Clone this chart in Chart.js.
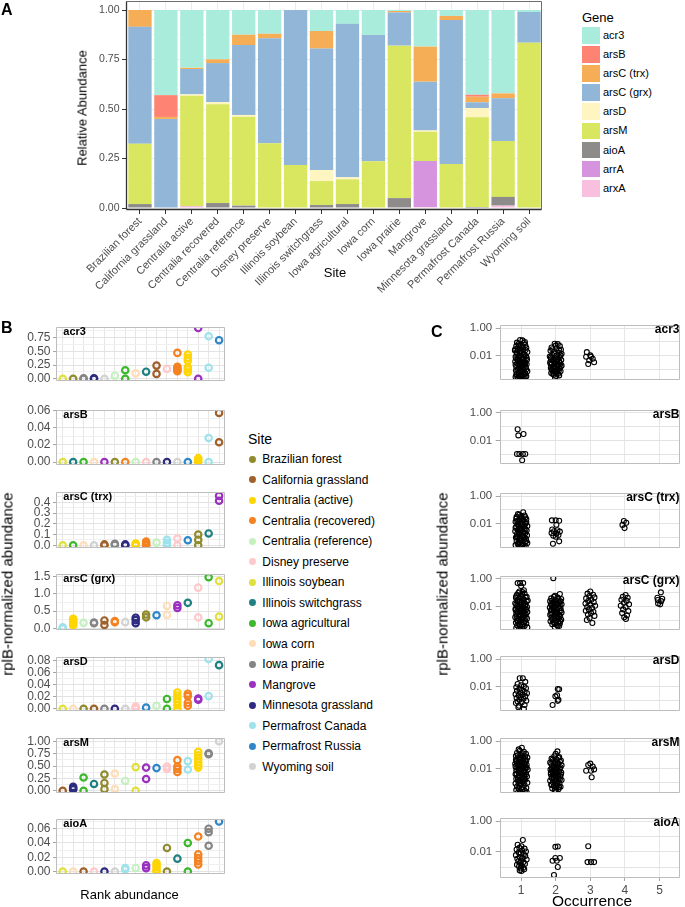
<!DOCTYPE html>
<html><head><meta charset="utf-8">
<script src="https://cdn.jsdelivr.net/npm/chart.js@4"></script>
<style>
html,body{margin:0;padding:0;background:#fff;width:685px;height:907px;overflow:hidden;}
#wrap{position:relative;width:685px;height:907px;overflow:hidden;font-family:"Liberation Sans",Arial,Helvetica,sans-serif;}
canvas{position:absolute;}
.t{position:absolute;white-space:nowrap;line-height:1;color:#000;}
</style></head>
<body><div id="wrap"></div>
<script>
// ---------------- DATA ----------------
// Panel A
const A_SITES = ["Brazilian forest","California grassland","Centralia active","Centralia recovered","Centralia reference","Disney preserve","Illinois soybean","Illinois switchgrass","Iowa agricultural","Iowa corn","Iowa prairie","Mangrove","Minnesota grassland","Permafrost Canada","Permafrost Russia","Wyoming soil"];
const GENES = ["acr3","arsB","arsC (trx)","arsC (grx)","arsD","arsM","aioA","arrA","arxA"];
const GENE_COLORS = ["#AAECDC","#FF8373","#F5AE55","#92B6D8","#FFF5C0","#D9E660","#8E8B8B","#D693DE","#F9BFDE"];
const A_ACR3 = [0,0.43,0.292,0.249,0.125,0.12,0,0.106,0.07,0.126,0.005,0.185,0.03,0.428,0.421,0.01];
const A_ARSB = [0,0.11,0,0,0,0,0,0,0,0,0,0,0,0.01,0,0];
const A_TRX  = [0.085,0.01,0.006,0.019,0.052,0.023,0,0.089,0,0,0.007,0.177,0.021,0.028,0.025,0];
const A_GRX  = [0.59,0.45,0.128,0.197,0.353,0.53,0.783,0.613,0.775,0.638,0.168,0.246,0.727,0.029,0.216,0.155];
const A_ARSD = [0,0,0.007,0.011,0.009,0,0,0.056,0.01,0,0,0.007,0,0.047,0,0];
const A_ARSM = [0.305,0,0.557,0.499,0.449,0.327,0.217,0.121,0.125,0.236,0.77,0.148,0.222,0.453,0.282,0.835];
const A_AIOA = [0.02,0,0,0.025,0.012,0,0,0.015,0.02,0,0.05,0,0,0.005,0.044,0];
const A_ARRA = [0,0,0,0,0,0,0,0,0,0,0,0.232,0,0,0,0];
const A_ARXA = [0,0,0.01,0,0,0,0,0,0,0,0,0.005,0,0,0.012,0];
const A_TICKS = ["0.00","0.25","0.50","0.75","1.00"];

// Panel B
const SITES = ["Brazilian forest","California grassland","Centralia (active)","Centralia (recovered)","Centralia (reference)","Disney preserve","Illinois soybean","Illinois switchgrass","Iowa agricultural","Iowa corn","Iowa prairie","Mangrove","Minnesota grassland","Permafrost Canada","Permafrost Russia","Wyoming soil"];
const SITE_COLORS = ["#8F8B2E","#A0602A","#FFD500","#F58220","#C5F0C0","#FFC9CC","#E0E03A","#1E8080","#3CB82C","#FFDDB8","#858585","#9B30C0","#2D2A80","#9EE2EC","#2F87C9","#D2D2D2"];
const B_ACR3 = [["Illinois soybean",[0]],["Brazilian forest",[0]],["Iowa prairie",[0,0.01]],["Minnesota grassland",[0,0.01]],["Wyoming soil",[0]],["Centralia (reference)",[0.057]],["Iowa agricultural",[0,0.156]],["Iowa corn",[0.1]],["Illinois switchgrass",[0.13]],["California grassland",[0.09,0.24]],["Disney preserve",[0.18]],["Centralia (recovered)",[0.47,0.22,0.19,0.16,0.14]],["Centralia (active)",[0.44,0.38,0.33,0.21,0.17,0.12]],["Mangrove",[0.92,0]],["Permafrost Canada",[0.77,0.2]],["Permafrost Russia",[0.7]]];
const B_ARSB = [["Illinois soybean",[0]],["Illinois switchgrass",[0]],["Iowa agricultural",[0]],["Iowa corn",[0]],["Mangrove",[0]],["Brazilian forest",[0]],["Centralia (recovered)",[0]],["Centralia (reference)",[0]],["Disney preserve",[0]],["Iowa prairie",[0]],["Minnesota grassland",[0]],["Wyoming soil",[0]],["Permafrost Russia",[0]],["Centralia (active)",[0,0.002,0.0045]],["Permafrost Canada",[0,0.028]],["California grassland",[0.057,0.023]]];
const B_TRX = [["Illinois soybean",[0]],["Iowa agricultural",[0]],["Iowa corn",[0]],["Wyoming soil",[0]],["California grassland",[0,0.008]],["Iowa prairie",[0.004,0.013]],["Minnesota grassland",[0,0.008]],["Centralia (active)",[0,0.008,0.016]],["Centralia (recovered)",[0,0.01,0.02,0.035]],["Centralia (reference)",[0.025]],["Permafrost Canada",[0,0.022,0.05]],["Disney preserve",[0,0.063]],["Permafrost Russia",[0.047]],["Brazilian forest",[0,0.05,0.1]],["Illinois switchgrass",[0.11]],["Mangrove",[0.46,0.415]]];
const B_GRX = [["Permafrost Canada",[0.03,0]],["Centralia (active)",[0.28,0.24,0.2,0.16,0.12,0.09]],["Centralia (reference)",[0.16]],["Iowa prairie",[0.15,0.17]],["California grassland",[0.23,0.1]],["Centralia (recovered)",[0.18,0.21]],["Wyoming soil",[0.18]],["Minnesota grassland",[0.31,0.24,0.15]],["Brazilian forest",[0.4,0.32]],["Permafrost Russia",[0.38]],["Iowa corn",[0.65,0.39]],["Mangrove",[0.67,0.59]],["Illinois switchgrass",[0.74]],["Disney preserve",[1.18,0.32]],["Iowa agricultural",[1.48,0.15]],["Illinois soybean",[1.37,0.34]]];
const B_ARSD = [["Illinois soybean",[0]],["Iowa corn",[0]],["Brazilian forest",[0]],["California grassland",[0]],["Iowa prairie",[0]],["Minnesota grassland",[0]],["Wyoming soil",[0]],["Disney preserve",[0,0.002,0.004]],["Permafrost Russia",[0.002]],["Centralia (reference)",[0.005]],["Iowa agricultural",[0.0163,0]],["Centralia (active)",[0.027,0.022,0.017,0.012,0.006,0]],["Centralia (recovered)",[0.025,0.021,0.01,0.005]],["Mangrove",[0.017,0.015]],["Permafrost Canada",[0.021,0.082]],["Illinois switchgrass",[0.072]]];
const B_ARSM = [["California grassland",[0]],["Minnesota grassland",[0.08,0.05,0.03]],["Iowa agricultural",[0.27,0]],["Illinois switchgrass",[0.14]],["Brazilian forest",[0.33,0.16,0.035]],["Iowa corn",[0.35,0.035]],["Centralia (reference)",[0.2]],["Illinois soybean",[0.48,0]],["Mangrove",[0.47,0.24]],["Permafrost Russia",[0.46]],["Disney preserve",[0.49,0.44]],["Centralia (recovered)",[0.62,0.49,0.44,0.38]],["Permafrost Canada",[0.6,0.43]],["Centralia (active)",[0.79,0.72,0.65,0.58,0.52,0.47]],["Iowa prairie",[0.76,0.74]],["Wyoming soil",[1.0]]];
const B_AIOA = [["Illinois soybean",[0]],["Iowa corn",[0]],["California grassland",[0]],["Disney preserve",[0]],["Minnesota grassland",[0]],["Wyoming soil",[0]],["Permafrost Canada",[0.005,0.003]],["Centralia (reference)",[0.005]],["Mangrove",[0.0086,0.0047]],["Centralia (active)",[0.012,0.009,0.006,0.002,0]],["Brazilian forest",[0.033,0]],["Illinois switchgrass",[0.018]],["Iowa agricultural",[0.04,0]],["Centralia (recovered)",[0.049,0.024,0.019,0.0145,0.0098]],["Iowa prairie",[0.06,0.055,0.036]],["Permafrost Russia",[0.07]]];
const B_TICKS_ACR3 = ["0.00","0.25","0.50","0.75"];
const B_TICKS_ARSB = ["0.00","0.02","0.04","0.06"];
const B_TICKS_TRX  = ["0.0","0.1","0.2","0.3","0.4"];
const B_TICKS_GRX  = ["0.0","0.5","1.0","1.5"];
const B_TICKS_ARSD = ["0.00","0.02","0.04","0.06","0.08"];
const B_TICKS_ARSM = ["0.00","0.25","0.50","0.75","1.00"];
const B_TICKS_AIOA = ["0.00","0.02","0.04","0.06"];

// Panel C  [occurrence (jittered), rplB-normalized abundance]
const C_ACR3 = [[0.97,0.14],[1.04,0.13],[1.08,0.085],[0.92,0.07],[1.12,0.06],[0.86,0.05],[1.0,0.045],[1.15,0.038],[0.9,0.033],[1.06,0.028],[0.82,0.024],[0.96,0.021],[1.18,0.019],[1.02,0.016],[0.88,0.014],[1.1,0.012],[0.94,0.011],[1.14,0.0095],[0.84,0.0085],[1.0,0.0075],[1.07,0.0066],[0.9,0.0058],[1.17,0.0052],[0.97,0.0046],[0.83,0.004],[1.11,0.0036],[1.03,0.0031],[0.89,0.0028],[1.16,0.0025],[0.95,0.0022],[1.05,0.0019],[0.86,0.0017],[1.13,0.0015],[0.99,0.0013],[0.91,0.0012],[1.08,0.001],[0.85,0.0009],[1.18,0.0008],[1.01,0.0007],[0.93,0.0006],[1.12,0.00055],[0.87,0.0005],[1.05,0.00044],[0.97,0.0004],[1.15,0.00035],[0.84,0.00031],[1.02,0.00028],[0.92,0.00025],[1.1,0.00023],[0.96,0.00021],[1.03,0.018],[0.93,0.0068],[1.09,0.0024],[0.98,0.00085],[1.06,0.0033],
[0.88,0.09],[1.11,0.1],[0.95,0.055],[1.05,0.041],[0.83,0.03],[1.13,0.026],[0.99,0.023],[0.87,0.018],[1.07,0.013],[0.96,0.0088],[1.16,0.0072],[0.86,0.0062],[1.04,0.0054],[0.92,0.0042],[1.12,0.0029],[0.98,0.0026],[0.84,0.0023],[1.07,0.0016],[0.95,0.0014],[1.15,0.0011],[0.89,0.00095],[1.03,0.00075],[0.94,0.00065],[1.09,0.00048],[0.86,0.00042],[1.0,0.00037],[1.13,0.0003],[0.9,0.00027],[1.05,0.00024],[0.99,0.0002],
[1.97,0.074],[2.06,0.07],[2.12,0.05],[1.88,0.04],[2.02,0.034],[2.15,0.028],[1.85,0.023],[1.95,0.02],[2.09,0.017],[2.17,0.014],[1.9,0.012],[2.03,0.0105],[1.83,0.009],[2.12,0.008],[1.97,0.007],[2.07,0.0062],[1.87,0.0055],[2.16,0.005],[1.93,0.0044],[2.04,0.004],[1.84,0.0035],[2.13,0.0031],[1.98,0.0028],[1.89,0.0025],[2.08,0.0022],[2.17,0.002],[1.94,0.0018],[2.02,0.0016],[1.86,0.0014],[2.11,0.0013],[1.96,0.0011],[2.05,0.001],[1.9,0.0009],[2.14,0.0008],[1.99,0.0007],[1.87,0.0006],[2.07,0.00052],[1.95,0.00045],[2.1,0.0004],[2.01,0.00036],[1.98,0.00028],
[2.0,0.055],[1.9,0.03],[2.1,0.025],[1.96,0.015],[2.14,0.011],[1.86,0.0075],[2.02,0.0058],[1.92,0.0047],[2.1,0.0038],[1.97,0.0033],[1.85,0.0027],[2.06,0.0024],[2.14,0.0017],[1.92,0.0015],[2.0,0.0012],[1.88,0.00105],[2.09,0.00085],[1.95,0.00075],[2.04,0.00062],[1.91,0.0005],
[2.9,0.0186],[2.88,0.0087],[3.02,0.0087],[3.07,0.0063],[2.97,0.0049],[3.11,0.0035],[2.94,0.0026],[3.0,0.011]];
const C_ARSB = [[0.9,0.065],[0.92,0.023],[1.07,0.029],[0.88,0.001],[0.95,0.001],[1.05,0.001],[1.12,0.001],[1.03,0.00035]];
const C_TRX = [[1.06,0.068],[0.95,0.045],[1.1,0.04],[0.87,0.032],[1.02,0.027],[1.15,0.022],[0.92,0.019],[1.08,0.016],[0.84,0.014],[0.99,0.012],[1.13,0.0105],[0.9,0.0092],[1.04,0.008],[1.18,0.007],[0.86,0.0062],[0.97,0.0055],[1.1,0.0049],[0.93,0.0043],[1.01,0.0038],[1.16,0.0034],[0.83,0.003],[1.06,0.0027],[0.95,0.0024],[1.12,0.0021],[0.88,0.0019],[1.0,0.0017],[1.17,0.0015],[0.91,0.0013],[1.07,0.0012],[0.85,0.00105],[0.98,0.00095],[1.14,0.00085],[0.94,0.00075],[1.03,0.00066],[0.87,0.0006],[1.11,0.00053],[0.97,0.00047],[1.18,0.00042],[0.9,0.00038],[1.05,0.00034],[0.84,0.0003],[1.0,0.00027],[1.13,0.00024],[0.93,0.00022],[1.08,0.0002],
[0.91,0.05],[1.0,0.036],[1.12,0.03],[0.86,0.024],[0.97,0.021],[1.06,0.018],[0.89,0.0145],[1.15,0.013],[1.02,0.0098],[0.93,0.0085],[1.09,0.0066],[0.84,0.0052],[1.01,0.0046],[1.13,0.0041],[0.9,0.0036],[0.98,0.0032],[1.08,0.0023],[0.94,0.002],[1.04,0.0014],[0.88,0.0011],[1.1,0.001],[0.99,0.0007],[1.15,0.0006],[0.93,0.00045],[1.02,0.0003],
[1.89,0.018],[2.0,0.018],[2.1,0.017],[2.02,0.0087],[1.9,0.004],[2.05,0.0035],[1.95,0.003],[2.12,0.0028],[1.88,0.0022],[2.02,0.002],[2.08,0.0016],[1.93,0.0014],[2.0,0.0012],[2.1,0.00056],[1.92,0.00038],
[3.97,0.016],[4.04,0.012],[3.93,0.0085],[3.99,0.005]];
const C_GRX = [[0.9,0.5],[0.97,0.5],[1.06,0.5],[0.95,0.12],[1.04,0.11],[1.1,0.085],[0.88,0.07],[1.0,0.06],[1.16,0.05],[0.85,0.042],[0.94,0.036],[1.08,0.031],[1.19,0.027],[0.9,0.023],[1.02,0.02],[0.83,0.017],[1.13,0.015],[0.97,0.013],[1.06,0.0115],[0.88,0.01],[1.17,0.009],[0.93,0.008],[1.01,0.007],[1.11,0.0062],[0.84,0.0055],[0.96,0.0049],[1.07,0.0044],[1.18,0.0039],[0.9,0.0035],[1.03,0.0031],[0.86,0.0028],[1.14,0.0025],[0.99,0.0022],[1.09,0.002],[0.92,0.0018],[0.83,0.0016],[1.05,0.00145],[1.17,0.0013],[0.95,0.00115],[1.01,0.00105],[0.88,0.00095],[1.12,0.00085],[0.97,0.00077],[1.07,0.0007],[0.85,0.00062],[1.15,0.00056],[0.93,0.0005],[1.03,0.00045],[0.89,0.0004],[1.1,0.00036],[0.98,0.00032],[1.18,0.00029],[0.86,0.00026],[1.04,0.00023],[0.94,0.00021],
[1.0,0.3],[1.08,0.15],[0.92,0.095],[1.03,0.075],[0.86,0.055],[1.13,0.045],[0.98,0.04],[1.05,0.033],[0.89,0.029],[1.16,0.024],[0.95,0.021],[1.08,0.018],[0.86,0.014],[1.01,0.0125],[1.12,0.0108],[0.93,0.0092],[1.04,0.0082],[0.84,0.0067],[1.15,0.0058],[0.99,0.0052],[0.88,0.0042],[1.1,0.0033],[0.95,0.0027],[1.06,0.0024],[0.87,0.0019],[1.13,0.0015],[1.0,0.0012],[0.91,0.0009],[1.08,0.00066],[0.96,0.0004],
[1.93,1.15],[2.12,0.08],[1.95,0.05],[2.05,0.045],[1.87,0.038],[2.16,0.034],[2.0,0.028],[1.84,0.024],[2.1,0.021],[1.92,0.018],[2.03,0.016],[2.17,0.014],[1.88,0.012],[1.98,0.0105],[2.08,0.0093],[1.83,0.0082],[2.14,0.0072],[1.94,0.0064],[2.04,0.0056],[1.86,0.005],[2.11,0.0044],[1.99,0.0039],[2.17,0.0035],[1.9,0.0031],[2.06,0.0027],[1.84,0.0024],[1.96,0.0021],[2.13,0.0019],[2.02,0.0017],[1.88,0.0015],[2.09,0.0013],[1.93,0.0012],[2.16,0.00105],[2.0,0.00093],[1.85,0.00082],[2.07,0.00072],[1.95,0.00064],[2.12,0.00056],[1.9,0.0005],[2.03,0.00043],[2.1,0.00037],[1.97,0.00031],
[1.98,0.06],[2.08,0.035],[1.9,0.027],[2.14,0.023],[1.97,0.019],[1.86,0.015],[2.06,0.013],[2.12,0.011],[1.92,0.0088],[2.02,0.0068],[1.88,0.006],[2.15,0.0048],[1.97,0.0042],[2.04,0.0033],[1.87,0.0029],[2.1,0.0023],[1.95,0.0018],[2.05,0.0014],[1.9,0.0011],[2.13,0.0008],[1.99,0.0006],[2.06,0.0004],
[3.0,0.12],[2.92,0.085],[3.08,0.07],[2.97,0.055],[3.12,0.045],[2.88,0.038],[3.03,0.03],[2.94,0.024],[3.1,0.02],[2.86,0.016],[3.0,0.013],[3.14,0.011],[2.91,0.009],[3.05,0.0075],[2.96,0.006],[2.87,0.0048],[3.09,0.004],[3.02,0.0032],[2.93,0.0025],[3.12,0.002],[2.98,0.0014],[2.9,0.001],[3.06,0.0006],
[4.02,0.068],[3.94,0.05],[4.08,0.042],[3.9,0.03],[4.05,0.025],[3.97,0.018],[4.12,0.014],[3.88,0.011],[4.02,0.009],[3.95,0.006],[4.1,0.0045],[3.92,0.0032],[4.06,0.0022],[3.98,0.0016],[4.03,0.0012],
[5.04,0.105],[4.94,0.042],[5.08,0.036],[4.95,0.029],[5.05,0.024],[4.96,0.016],[5.02,0.014]];
const C_ARSD = [[0.96,0.042],[1.05,0.042],[1.12,0.023],[0.9,0.016],[1.0,0.013],[1.08,0.011],[0.86,0.0095],[1.14,0.008],[0.95,0.007],[1.03,0.006],[0.88,0.0052],[1.1,0.0045],[0.98,0.004],[1.17,0.0035],[0.84,0.003],[1.04,0.0027],[0.93,0.0024],[1.12,0.0021],[1.0,0.0018],[0.87,0.0016],[1.07,0.0014],[0.95,0.0012],[1.15,0.001],[0.9,0.0009],[1.02,0.0008],[0.85,0.0007],[1.1,0.0005],[0.94,0.00045],[0.92,0.00035],[1.08,0.00026],
[2.06,0.0071],[2.1,0.0068],[1.99,0.0021],[2.04,0.0025],[2.06,0.001],[2.08,0.0012],[1.91,0.0005]];
const C_ARSM = [[1.02,0.33],[0.96,0.2],[1.08,0.17],[0.88,0.14],[1.14,0.12],[0.99,0.1],[0.85,0.085],[1.06,0.075],[1.18,0.065],[0.92,0.056],[1.01,0.048],[1.12,0.042],[0.87,0.036],[0.97,0.031],[1.09,0.027],[0.83,0.023],[1.16,0.02],[0.94,0.017],[1.04,0.015],[0.89,0.013],[1.12,0.0115],[0.99,0.01],[1.19,0.0088],[0.86,0.0077],[1.06,0.0068],[0.93,0.006],[1.14,0.0053],[1.01,0.0047],[0.84,0.0041],[1.09,0.0036],[0.96,0.0032],[1.17,0.0028],[0.9,0.0025],[1.03,0.0022],[0.86,0.0019],[1.12,0.0017],[0.98,0.0015],[1.07,0.0013],[0.92,0.00115],[1.18,0.001],[0.84,0.0009],[1.0,0.0008],[1.1,0.0007],[0.95,0.00062],[0.88,0.00055],[1.05,0.00049],[1.15,0.00043],[0.93,0.00038],[1.02,0.00034],[0.86,0.0003],[1.11,0.00027],[0.97,0.00024],[1.07,0.00022],[0.91,0.0002],[1.16,0.00021],
[0.93,0.25],[1.05,0.13],[0.9,0.095],[1.12,0.08],[0.97,0.062],[1.07,0.052],[0.85,0.045],[1.15,0.039],[0.93,0.033],[1.03,0.029],[0.88,0.025],[1.11,0.022],[0.98,0.019],[1.07,0.0165],[0.84,0.0145],[1.16,0.0125],[0.94,0.011],[1.03,0.0094],[0.89,0.0082],[1.1,0.0072],[0.98,0.0064],[1.06,0.0056],[0.87,0.0044],[1.14,0.0039],[0.93,0.003],[1.01,0.0027],[1.09,0.002],[0.91,0.0016],[1.04,0.0012],[0.95,0.00095],
[2.05,0.18],[1.96,0.08],[2.1,0.07],[1.88,0.055],[2.02,0.048],[2.15,0.04],[1.93,0.034],[1.84,0.029],[2.07,0.025],[1.98,0.021],[2.17,0.018],[1.89,0.016],[2.03,0.014],[1.94,0.012],[2.12,0.0105],[1.85,0.009],[2.0,0.008],[2.09,0.007],[1.91,0.0062],[2.16,0.0054],[1.97,0.0048],[1.86,0.0042],[2.06,0.0037],[1.93,0.0033],[2.13,0.0029],[2.01,0.0026],[1.88,0.0023],[2.08,0.002],[1.95,0.0018],[2.17,0.0016],[1.84,0.0014],[2.03,0.00125],[1.92,0.0011],[2.11,0.00098],[1.99,0.00086],[1.87,0.00076],[2.06,0.00067],[1.95,0.00059],[2.14,0.00052],[2.0,0.00046],[1.9,0.0004],[2.08,0.00035],[1.97,0.0003],[2.02,0.00025],[2.0,0.00022],
[2.0,0.12],[2.08,0.06],[1.91,0.045],[2.12,0.033],[1.99,0.03],[1.87,0.023],[2.06,0.019],[1.95,0.017],[2.14,0.013],[1.89,0.011],[2.03,0.0095],[1.97,0.0085],[2.1,0.0065],[1.86,0.0056],[2.02,0.0052],[1.93,0.0045],[2.15,0.004],[1.98,0.0031],[2.06,0.0028],[1.9,0.0021],[2.12,0.0018],[1.97,0.0013],[2.05,0.0009],[1.88,0.0007],[2.1,0.0005],
[3.0,0.024],[2.94,0.019],[3.07,0.015],[2.88,0.0073],[3.02,0.0073],[3.11,0.0092],[3.04,0.0025]];
const C_AIOA = [[1.05,0.059],[0.9,0.029],[1.01,0.023],[0.95,0.018],[1.1,0.016],[0.87,0.014],[1.03,0.012],[1.14,0.0105],[0.93,0.009],[0.99,0.0078],[1.08,0.0068],[0.85,0.006],[1.12,0.0052],[0.96,0.0045],[1.04,0.004],[0.89,0.0035],[1.16,0.0031],[1.0,0.0027],[0.92,0.0024],[1.07,0.0021],[0.97,0.0018],[1.11,0.0016],[0.88,0.0014],[1.02,0.0012],[0.94,0.0011],[1.06,0.0009],[0.99,0.0008],[1.09,0.0007],[0.96,0.0006],[1.01,0.00055],
[1.99,0.021],[2.06,0.022],[1.91,0.0026],[2.03,0.0026],[1.99,0.0039],[2.12,0.0039],[2.06,0.001],[1.95,0.0003],
[2.94,0.023],[2.92,0.0021],[3.02,0.0021],[3.11,0.0021]];
const C_Y_TICKS = ["0.001","0.01","0.1","1.00"];
const C_Y_LABELS = ["","0.01","","1.00"];
const C_X_TICKS = ["1","2","3","4","5"];

// ---------------- RENDER ----------------
Chart.defaults.font.family = "'Liberation Sans', Arial, Helvetica, sans-serif";
const wrap = document.getElementById('wrap');

Chart.register({
  id: 'frame',
  afterDraw(chart, args, o) {
    if (!o || !o.top) return;
    const a = chart.chartArea, ctx = chart.ctx;
    const L = Math.round(a.left) - 0.5, R = Math.round(a.right) - 0.5, T = Math.round(a.top) + 0.5, B = Math.round(a.bottom) - 0.5;
    ctx.save();
    const seg = (x1, y1, x2, y2, c, w) => { ctx.strokeStyle = c; ctx.lineWidth = w; ctx.beginPath(); ctx.moveTo(x1, y1); ctx.lineTo(x2, y2); ctx.stroke(); };
    seg(L, T, R, T, o.top, o.w1 || 1); seg(R, T, R, B, o.right, o.w1 || 1);
    seg(L, B, R, B, o.bottom, o.w2 || 1); seg(L, T, L, B, o.left, o.w2 || 1);
    ctx.restore();
  }
});

function makeChart(left, top, w, h, config) {
  const c = document.createElement('canvas');
  c.width = w; c.height = h;
  Object.assign(c.style, {left: left + 'px', top: top + 'px', width: w + 'px', height: h + 'px'});
  wrap.appendChild(c);
  config.options = Object.assign({responsive: false, maintainAspectRatio: false, animation: false, devicePixelRatio: 1, events: []}, config.options);
  return new Chart(c, config);
}
function txt(s, left, top, size, extra) {
  const d = document.createElement('div');
  d.className = 't'; d.textContent = s;
  d.style.left = left + 'px'; d.style.top = top + 'px'; d.style.fontSize = size + 'px';
  if (extra) Object.assign(d.style, extra);
  wrap.appendChild(d); return d;
}
function rotTxt(s, cx, cy, size) {
  return txt(s, cx, cy, size, {transform: 'translate(-50%,-50%) rotate(-90deg)'});
}
function box(left, top, w, h, color, round) {
  const d = document.createElement('div');
  Object.assign(d.style, {position: 'absolute', left: left + 'px', top: top + 'px', width: w + 'px', height: h + 'px', background: color, borderRadius: round ? '50%' : '0'});
  wrap.appendChild(d);
}
function withMinors(labels, min, max) {
  const maj = labels.map(l => ({value: parseFloat(l), lab: l}));
  const step = maj[1].value - maj[0].value;
  const out = maj.slice();
  maj.forEach(t => { const v = t.value + step / 2; if (v < max) out.push({value: v, lab: ''}); });
  const v0 = maj[0].value - step / 2; if (v0 > min) out.push({value: v0, lab: ''});
  return out.sort((p, q) => p.value - q.value);
}
function yAxis(o) {
  return {
    type: o.type || 'linear', min: o.min, max: o.max, position: 'left',
    afterBuildTicks: s => { s.ticks = o.ticks.map(t => ({value: t.value, lab: t.lab})); },
    afterFit: s => { s.width = o.width; s.paddingTop = 0; s.paddingBottom = 0; },
    ticks: {autoSkip: false, callback: (v, i, arr) => arr[i].lab, color: '#4D4D4D', font: {size: o.font}, padding: o.pad},
    grid: {color: c => (c.tick && c.tick.lab) ? o.gMaj : o.gMin, tickColor: c => (c.tick && c.tick.lab) ? o.tickColor : 'rgba(0,0,0,0)', tickLength: o.tickLen, drawTicks: true, lineWidth: 1},
    border: {display: false}
  };
}
function xAxis(o) {
  return {
    type: 'linear', min: o.min, max: o.max, position: 'bottom',
    afterBuildTicks: s => { s.ticks = o.ticks.map(t => ({value: t.value, lab: t.lab})); },
    afterFit: s => { s.height = o.height; s.paddingLeft = 0; s.paddingRight = 0; },
    ticks: {display: !!o.show, autoSkip: false, maxRotation: 0, minRotation: 0, callback: (v, i, arr) => arr[i].lab, color: '#4D4D4D', font: {size: 12}, padding: 2},
    grid: {color: o.gMaj, drawTicks: !!o.show, tickLength: 3, tickColor: '#A6A6A6', lineWidth: 1},
    border: {display: false}
  };
}

// ---- Panel A ----
const A_DATA = [A_ACR3, A_ARSB, A_TRX, A_GRX, A_ARSD, A_ARSM, A_AIOA, A_ARRA, A_ARXA];
const aMin = -0.0101, aMax = 1.0455;
const aDatasets = [];
for (let i = GENES.length - 1; i >= 0; i--) {
  aDatasets.push({label: GENES[i], data: A_DATA[i], backgroundColor: GENE_COLORS[i], borderWidth: 0, categoryPercentage: 0.9, barPercentage: 1.0});
}
makeChart(0, 0, 548, 300, {
  type: 'bar',
  data: {labels: A_SITES, datasets: aDatasets},
  options: {
    layout: {padding: {top: 1, right: 6, left: 0, bottom: 0}},
    plugins: {legend: {display: false}, tooltip: {enabled: false},
      frame: {top: '#6E6E6E', right: '#6E6E6E', bottom: '#333333', left: '#333333', w1: 1, w2: 1.3}},
    scales: {
      x: {stacked: true, offset: true,
        afterFit: s => { s.height = 90; s.paddingLeft = 0; s.paddingRight = 0; },
        grid: {offset: false, color: '#EBEBEB', tickColor: '#333333', tickLength: 4, lineWidth: 1},
        border: {display: false},
        ticks: {minRotation: 45, maxRotation: 45, autoSkip: false, color: '#4D4D4D', font: {size: 11}, padding: 1}},
      y: Object.assign(yAxis({min: aMin, max: aMax, ticks: withMinors(A_TICKS, aMin, aMax), width: 127, font: 10.5, pad: 2.5, tickLen: 5, tickColor: '#333333', gMaj: '#EBEBEB', gMin: '#F5F5F5'}), {stacked: true})
    }
  }
});
txt('A', 1, 2, 16, {fontWeight: 'bold'});
rotTxt('Relative Abundance', 81.5, 108, 13);
txt('Site', 335, 266, 13, {transform: 'translateX(-50%)'});
txt('Gene', 582, 11, 13);
GENES.forEach((g, i) => {
  box(582, 27 + 19.1 * i, 17.5, 16.8, GENE_COLORS[i]);
  txt(g, 603, 35.5 + 19.1 * i - 5.6, 11);
});

// ---- Panel B ----
const B_PANELS = [
  {gene: 'acr3', rows: B_ACR3, ticks: B_TICKS_ACR3, min: -0.035, max: 0.935, top: 322, h: 64},
  {gene: 'arsB', rows: B_ARSB, ticks: B_TICKS_ARSB, min: -0.0032, max: 0.0602, top: 405, h: 65},
  {gene: 'arsC (trx)', rows: B_TRX, ticks: B_TICKS_TRX, min: -0.0235, max: 0.494, top: 487, h: 66},
  {gene: 'arsC (grx)', rows: B_GRX, ticks: B_TICKS_GRX, min: -0.041, max: 1.569, top: 569, h: 66},
  {gene: 'arsD', rows: B_ARSD, ticks: B_TICKS_ARSD, min: -0.0032, max: 0.0851, top: 652, h: 64},
  {gene: 'arsM', rows: B_ARSM, ticks: B_TICKS_ARSM, min: -0.039, max: 1.063, top: 733, h: 65},
  {gene: 'aioA', rows: B_AIOA, ticks: B_TICKS_AIOA, min: -0.0032, max: 0.0733, top: 814, h: 65}
];
B_PANELS.forEach(p => {
  const pts = [], cols = [];
  p.rows.forEach((r, i) => r[1].forEach(v => { pts.push({x: i + 1, y: v}); cols.push(SITE_COLORS[SITES.indexOf(r[0])]); }));
  makeChart(0, p.top - 1, 231, p.h + 2, {
    type: 'scatter',
    data: {datasets: [{data: pts, pointBorderColor: cols, pointBackgroundColor: 'rgba(0,0,0,0)', pointRadius: 3.2, pointBorderWidth: 2.2, showLine: false, clip: 0}]},
    options: {
      layout: {padding: {top: 1, right: 1.5, left: 0, bottom: 1}},
      plugins: {legend: {display: false}, tooltip: {enabled: false}, frame: {top: '#BDBDBD', right: '#BDBDBD', bottom: '#BDBDBD', left: '#BDBDBD'}},
      scales: {
        x: xAxis({min: 0.45, max: 16.55, ticks: p.rows.map((r, i) => ({value: i + 1, lab: ''})), height: 0, show: false, gMaj: '#E6E6E6'}),
        y: yAxis({min: p.min, max: p.max, ticks: withMinors(p.ticks, p.min, p.max), width: 57, font: 12, pad: 2.5, tickLen: 4, tickColor: '#A6A6A6', gMaj: '#E3E3E3', gMin: '#F0F0F0'})
      }
    }
  });
  txt(p.gene, 63.3, p.top + 4.2, 11, {fontWeight: 'bold'});
});
txt('B', 1, 320, 16, {fontWeight: 'bold'});
rotTxt('rplB-normalized abundance', 7, 584, 15);
txt('Rank abundance', 129.5, 888, 13, {transform: 'translateX(-50%)'});
txt('Site', 248, 432, 14);
SITES.forEach((s, i) => {
  const cy = 459.3 + 20.5 * i;
  box(252.7 - 3.4, cy - 3.4, 6.8, 6.8, SITE_COLORS[i], true);
  txt(s, 262.3, cy - 5.9, 12);
});

// ---- Panel C ----
const C_PANELS = [
  {gene: 'acr3', data: C_ACR3, top: 321, h: 63},
  {gene: 'arsB', data: C_ARSB, top: 406, h: 62},
  {gene: 'arsC (trx)', data: C_TRX, top: 489, h: 63},
  {gene: 'arsC (grx)', data: C_GRX, top: 572, h: 62},
  {gene: 'arsD', data: C_ARSD, top: 652, h: 63},
  {gene: 'arsM', data: C_ARSM, top: 734, h: 63},
  {gene: 'aioA', data: C_AIOA, top: 814, h: 64}
];
const cMin = 1.9e-4, cMax = 1.62;
const cYTicks = C_Y_TICKS.map((t, i) => ({value: parseFloat(t), lab: C_Y_LABELS[i]}));
C_PANELS.forEach((p, k) => {
  const last = k === C_PANELS.length - 1;
  const ch = last ? 907 - (p.top - 1) : p.h + 2;
  makeChart(450, p.top - 1, 235, ch, {
    type: 'scatter',
    data: {datasets: [{data: p.data.map(d => ({x: d[0], y: d[1]})), pointBorderColor: '#000', pointBackgroundColor: 'rgba(0,0,0,0)', pointRadius: 2.5, pointBorderWidth: 1.1, showLine: false, clip: 0}]},
    options: {
      layout: {padding: {top: 1, right: 0.5, left: 0, bottom: 0}},
      plugins: {legend: {display: false}, tooltip: {enabled: false}, frame: {top: '#BDBDBD', right: '#BDBDBD', bottom: '#BDBDBD', left: '#BDBDBD'}},
      scales: {
        x: xAxis({min: 0.41, max: 5.59, ticks: C_X_TICKS.map(t => ({value: parseFloat(t), lab: last ? t : ''})), height: last ? ch - 1 - p.h : 1, show: last, gMaj: '#E6E6E6'}),
        y: yAxis({type: 'logarithmic', min: cMin, max: cMax, ticks: cYTicks, width: 50.7, font: 11.5, pad: 3.5, tickLen: 5, tickColor: '#A6A6A6', gMaj: '#E3E3E3', gMin: '#E3E3E3'})
      }
    }
  });
  txt(p.gene, 0, p.top + 1.6, 12, {fontWeight: 'bold', left: 'auto', right: '5.5px'});
});
txt('C', 431, 324, 16, {fontWeight: 'bold'});
rotTxt('rplB-normalized abundance', 442.3, 584, 15);
txt('Occurrence', 592, 893, 15.5, {transform: 'translateX(-50%)'});
</script>
</body></html>
